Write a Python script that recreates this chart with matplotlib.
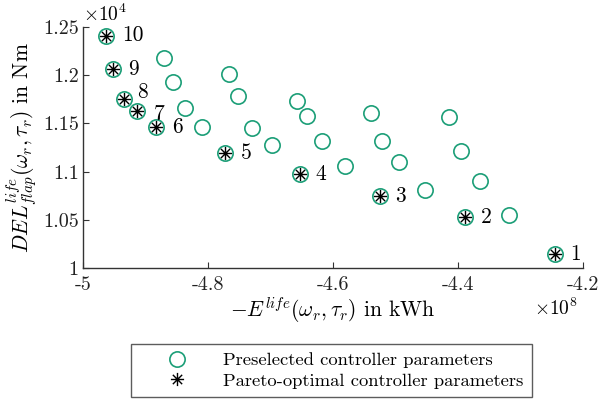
import matplotlib
matplotlib.use('Agg')
from matplotlib import pyplot as plt
from matplotlib.path import Path
from matplotlib.lines import Line2D

plt.rcParams['font.family'] = ['cmr10', 'DejaVu Serif']
plt.rcParams['mathtext.fontset'] = 'cm'
plt.rcParams['axes.formatter.use_mathtext'] = True

# energy in 1e8 kWh (negative), DEL in 1e4 Nm
pre_energy = [-4.870, -4.856, -4.837, -4.810, -4.766, -4.752, -4.730, -4.698,
              -4.658, -4.642, -4.618, -4.581, -4.539, -4.522, -4.494, -4.453,
              -4.414, -4.395, -4.365, -4.318]
pre_del = [1.2178, 1.193, 1.166, 1.146, 1.201, 1.178, 1.145, 1.128,
           1.173, 1.158, 1.132, 1.106, 1.161, 1.132, 1.110, 1.081,
           1.157, 1.121, 1.090, 1.055]

par_energy = [-4.245, -4.389, -4.525, -4.653, -4.773, -4.883, -4.914, -4.934, -4.952, -4.963]
par_del = [1.0145, 1.053, 1.0747, 1.0975, 1.119, 1.146, 1.163, 1.175, 1.206, 1.241]
par_labels = ['1', '2', '3', '4', '5', '6', '7', '8', '9', '10']

xticks = [-5, -4.8, -4.6, -4.4, -4.2]
xticklabels = ['-5', '-4.8', '-4.6', '-4.4', '-4.2']
yticks = [1, 1.05, 1.1, 1.15, 1.2, 1.25]
yticklabels = ['1', '1.05', '1.1', '1.15', '1.2', '1.25']

teal = '#1b9e77'

# MATLAB-like asterisk marker
verts, codes = [], []
for (a, b) in [((0, -1), (0, 1)), ((-1, 0), (1, 0)),
               ((-0.707, -0.707), (0.707, 0.707)), ((-0.707, 0.707), (0.707, -0.707))]:
    verts += [a, b]
    codes += [Path.MOVETO, Path.LINETO]
star = Path(verts, codes)

fig = plt.figure(figsize=(6.01, 4.03), dpi=100)
ax = fig.add_axes([0.138, 0.335, 0.832, 0.598])

ax.plot(pre_energy + par_energy, pre_del + par_del, 'o', mfc='none', mec=teal,
        ms=11, mew=1.2, linestyle='none')
ax.plot(par_energy, par_del, linestyle='none', marker=star, color='k', ms=9.5, mew=1.0)

offsets = {'8': (0.021, 0.007), '7': (0.027, -0.003)}
for x, y, s in zip(par_energy, par_del, par_labels):
    dx, dy = offsets.get(s, (0.025, 0))
    ax.text(x + dx, y + dy, s, fontsize=15.5, va='center', ha='left')

ax.set_xlim(-5, -4.2)
ax.set_ylim(1, 1.25)
ax.set_xticks(xticks)
ax.set_xticklabels(xticklabels)
ax.set_yticks(yticks)
ax.set_yticklabels(yticklabels)
ax.tick_params(direction='in', length=4, labelsize=14.5, color='#333333', labelcolor='#222222', pad=3)
ax.tick_params(axis='x', pad=6)
ax.spines['top'].set_visible(False)
ax.spines['right'].set_visible(False)
for sp in ['left', 'bottom']:
    ax.spines[sp].set_color('#333333')
    ax.spines[sp].set_linewidth(1.0)

ax.set_xlabel(r'$-E^{life}(\omega_r,\tau_r)$ in kWh', fontsize=15.5, labelpad=1)
ax.set_ylabel(r'$DEL^{life}_{flap}(\omega_r,\tau_r)$ in Nm', fontsize=15.5, labelpad=2)

ax.text(0.0, 1.01, r'$\times10^4$', transform=ax.transAxes, fontsize=14, ha='left', va='bottom')
ax.text(0.99, -0.125, r'$\times10^8$', transform=ax.transAxes, fontsize=14, ha='right', va='top')

handles = [Line2D([], [], marker='o', mfc='none', mec=teal, ms=11, mew=1.2, linestyle='none'),
           Line2D([], [], marker=star, color='k', ms=9.5, mew=1.0, linestyle='none')]
leg = fig.legend(handles, ['Preselected controller parameters', 'Pareto-optimal controller parameters'],
                 loc='center', bbox_to_anchor=(0.552, 0.081), fontsize=13.4,
                 fancybox=False, edgecolor='#333333', handletextpad=0.5, borderpad=0.45,
                 labelspacing=0.25, handlelength=4.0, borderaxespad=0)
leg.get_frame().set_linewidth(1.0)

fig.savefig('out.png', dpi=100)
